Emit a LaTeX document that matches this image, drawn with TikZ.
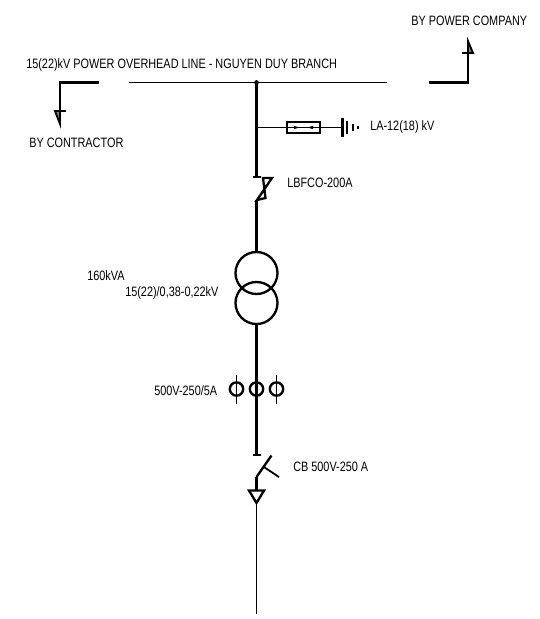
\documentclass[tikz,border=0pt]{standalone}
\usepackage{fontspec}
\setmainfont[FakeStretch=0.8]{Liberation Sans}
\tikzset{
    lbl/.style={inner sep=0pt, anchor=west, font=\fontsize{10.2pt}{12pt}\selectfont},
    wire/.style={line width=1.35pt},
    thick wire/.style={line width=1.75pt},
    trcoil/.style={circle, draw, line width=1.75pt, minimum size=31.5pt, inner sep=0pt},
    ctcoil/.style={circle, draw, line width=1.75pt, minimum size=10pt, inner sep=0pt},
}
\begin{document}
\begin{tikzpicture}[x=0.75pt, y=-0.75pt]
    \useasboundingbox (0,0) rectangle (540,619);

    % labels
    \node[lbl] (lblline) at (26,65) {15(22)kV POWER OVERHEAD LINE - NGUYEN DUY BRANCH};
    \node[lbl] (lblcontr) at (29,143) {BY CONTRACTOR};
    \node[lbl] (lblpower) at (411,21) {BY POWER COMPANY};
    \node[lbl] (lblla) at (370,127) {LA-12(18) kV};
    \node[lbl] (lblfco) at (287,183) {LBFCO-200A};
    \node[lbl] (lblkva) at (87,276) {160kVA};
    \node[lbl] (lblratio) at (125,293) {15(22)/0,38-0,22kV};
    \node[lbl] (lblct) at (154,391) {500V-250/5A};
    \node[lbl] (lblcb) at (293,467) {CB 500V-250 A};

    % overhead line
    \coordinate (linel) at (129,82.5);
    \coordinate (liner) at (387,82.5);
    \coordinate (tap) at (256.5,82.5);
    \draw[wire] (linel) -- (liner);
    \fill (tap) circle (2.4);

    % by contractor
    \coordinate (cl1) at (99,82.5);
    \coordinate (cl2) at (60,82.5);
    \coordinate (cl3) at (60,124);
    \draw[thick wire] (cl1) -- (cl2) -- (cl3);
    \draw[wire] (55,111) -- (65.5,111);
    \draw[wire, fill=black, fill opacity=.5] (55,111) -- (60,124) -- (60,111) -- cycle;

    % by power company
    \coordinate (pc1) at (429,82.5);
    \coordinate (pc2) at (468,82.5);
    \coordinate (pc3) at (468,41);
    \draw[thick wire] (pc1) -- (pc2) -- (pc3);
    \draw[wire] (462,53) -- (473,53);
    \draw[wire, fill=black, fill opacity=.5] (473,53) -- (468,41) -- (468,53) -- cycle;

    % feeder
    \coordinate (lb1) at (256.5,177);
    \coordinate (lb2) at (256.5,200);
    \node[trcoil] (trhv) at (256.5,273) {};
    \node[trcoil] (trlv) at (256.5,303) {};
    \draw[thick wire] (tap) -- (lb1);
    \draw[thick wire] (252.5,177) -- (260.5,177);
    \draw[thick wire] (lb2) -- (trhv);
    \draw[thick wire] (263,178) -- (272,178) -- (257,200) -- (265.5,198) -- cycle;

    % surge arrester
    \coordinate (la) at (343,127.5);
    \node[draw, line width=1.6pt, minimum width=25pt, minimum height=8pt, inner sep=0pt] (fuse) at (303.5,127.5) {};
    \draw[wire] (tap |- la) -- (fuse) (fuse) -- (la);
    \draw[line width=.7pt] (fuse.west) -- (fuse.east);
    \fill (299,127.5) -- (294,125.8) -- (294,129.2) -- cycle;
    \fill (308,127.5) -- (313,125.8) -- (313,129.2) -- cycle;
    \draw[thick wire] (342.5,118) -- (342.5,137);
    \draw[wire] (347,121) -- (347,134) (353,124) -- (353,131);
    \draw[line width=1.75pt] (358,126) -- (358,128.5);

    % current transformers
    \node[ctcoil] (ctl) at (236.5,389) {};
    \node[ctcoil] (ctm) at (256.5,389) {};
    \node[ctcoil] (ctr) at (276.5,389) {};
    \draw[wire] (236.5,375) -- (236.5,404) (276.5,375) -- (276.5,404);
    \draw[thick wire] (ctm.north) -- (ctm.south);

    % breaker and outgoing
    \coordinate (cbtop) at (256.5,455);
    \coordinate (cbbot) at (256.5,477);
    \coordinate (tipa) at (249,490.5);
    \coordinate (tipb) at (264,490.5);
    \coordinate (tipc) at (256.5,503);
    \coordinate (lineend) at (256.5,614);
    \draw[thick wire] (trlv) -- (cbtop);
    \draw[thick wire] (252.5,455) -- (260.5,455);
    \draw[thick wire] (cbbot) -- (256.5,491);
    \draw[thick wire] (cbbot) -- (271.5,455.5);
    \draw[wire] (264,467) -- (279,477);
    \draw[thick wire] (tipa) -- (tipb) -- (tipc) -- cycle;
    \draw[wire] (tipc) -- (lineend);
\end{tikzpicture}
\end{document}
